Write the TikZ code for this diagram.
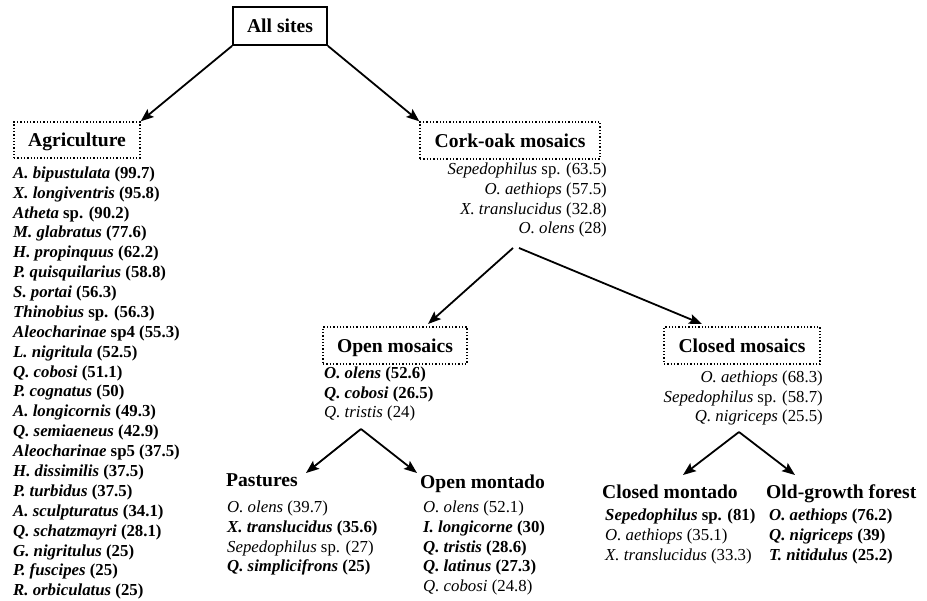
\documentclass[tikz,border=0pt]{standalone}
\usepackage{fontspec}
\setmainfont{Liberation Serif}
\usetikzlibrary{arrows.meta}
\newcommand\spB[2]{\textbf{\textit{#1} #2}}
\newcommand\spR[2]{\textit{#1} #2}
\begin{document}
\begin{tikzpicture}[x=1pt,y=-1pt,
  head/.style={font=\fontsize{19.6}{22}\selectfont\bfseries, inner sep=0pt},
  boxcommon/.style={head, draw, text height=14pt, text depth=0pt},
  solidbox/.style={boxcommon, line width=1.8pt},
  dotbox/.style={boxcommon, dotted, line width=1.3pt},
  item/.style={font=\fontsize{16.8}{19.5}\selectfont, inner sep=0pt},
  arr/.style={-{Stealth[length=13pt,width=10pt,inset=2.5pt]}, line width=1.8pt}]
\useasboundingbox (0,0) rectangle (927,601);
% boxes
\node[solidbox, minimum width=94pt, minimum height=38pt] (all) at (280,26) {All sites};
\node[dotbox, minimum width=126pt, minimum height=36pt] (agri) at (77,140) {Agriculture};
\node[dotbox, minimum width=180pt, minimum height=37pt] (cork) at (510,140.5) {Cork-oak mosaics};
\node[dotbox, minimum width=144pt, minimum height=37pt] (openm) at (395,345.5) {Open mosaics};
\node[dotbox, minimum width=156pt, minimum height=37pt] (closedm) at (742,345.5) {Closed mosaics};
% sub headings
\node[head, anchor=base west] (past) at (226,487) {Pastures};
\node[head, anchor=base west] (openmt) at (420,489) {Open montado};
\node[head, anchor=base west] (closedmt) at (602,499) {Closed montado};
\node[head, anchor=base west] (oldg) at (766,499) {Old-growth forest};
% lists
\foreach \t [count=\i] in {
  {\spB{A. bipustulata}{(99.7)}},
  {\spB{X. longiventris}{(95.8)}},
  {\spB{Atheta}{sp. (90.2)}},
  {\spB{M. glabratus}{(77.6)}},
  {\spB{H. propinquus}{(62.2)}},
  {\spB{P. quisquilarius}{(58.8)}},
  {\spB{S. portai}{(56.3)}},
  {\spB{Thinobius}{sp. (56.3)}},
  {\spB{Aleocharinae}{sp4 (55.3)}},
  {\spB{L. nigritula}{(52.5)}},
  {\spB{Q. cobosi}{(51.1)}},
  {\spB{P. cognatus}{(50)}},
  {\spB{A. longicornis}{(49.3)}},
  {\spB{Q. semiaeneus}{(42.9)}},
  {\spB{Aleocharinae}{sp5 (37.5)}},
  {\spB{H. dissimilis}{(37.5)}},
  {\spB{P. turbidus}{(37.5)}},
  {\spB{A. sculpturatus}{(34.1)}},
  {\spB{Q. schatzmayri}{(28.1)}},
  {\spB{G. nigritulus}{(25)}},
  {\spB{P. fuscipes}{(25)}},
  {\spB{R. orbiculatus}{(25)}}}
  \node[item, anchor=base west] (ag\i) at (13,{178.3+19.88*(\i-1)}) {\t};
\foreach \t [count=\i] in {
  {\spR{Sepedophilus}{sp. (63.5)}},
  {\spR{O. aethiops}{(57.5)}},
  {\spR{X. translucidus}{(32.8)}},
  {\spR{O. olens}{(28)}}}
  \node[item, anchor=base east] (co\i) at (607,{175+19.6*(\i-1)}) {\t};
\foreach \t [count=\i] in {
  {\spB{O. olens}{(52.6)}},
  {\spB{Q. cobosi}{(26.5)}},
  {\spR{Q. tristis}{(24)}}}
  \node[item, anchor=base west] (om\i) at (324,{379+19.5*(\i-1)}) {\t};
\foreach \t [count=\i] in {
  {\spR{O. aethiops}{(68.3)}},
  {\spR{Sepedophilus}{sp. (58.7)}},
  {\spR{Q. nigriceps}{(25.5)}}}
  \node[item, anchor=base east] (cm\i) at (823,{383+19.5*(\i-1)}) {\t};
\foreach \t [count=\i] in {
  {\spR{O. olens}{(39.7)}},
  {\spB{X. translucidus}{(35.6)}},
  {\spR{Sepedophilus}{sp. (27)}},
  {\spB{Q. simplicifrons}{(25)}}}
  \node[item, anchor=base west] (pa\i) at (227,{513+19.5*(\i-1)}) {\t};
\foreach \t [count=\i] in {
  {\spR{O. olens}{(52.1)}},
  {\spB{I. longicorne}{(30)}},
  {\spB{Q. tristis}{(28.6)}},
  {\spB{Q. latinus}{(27.3)}},
  {\spR{Q. cobosi}{(24.8)}}}
  \node[item, anchor=base west] (omt\i) at (423,{513+19.5*(\i-1)}) {\t};
\foreach \t [count=\i] in {
  {\spB{Sepedophilus}{sp. (81)}},
  {\spR{O. aethiops}{(35.1)}},
  {\spR{X. translucidus}{(33.3)}}}
  \node[item, anchor=base west] (cmt\i) at (605,{521+19.5*(\i-1)}) {\t};
\foreach \t [count=\i] in {
  {\spB{O. aethiops}{(76.2)}},
  {\spB{Q. nigriceps}{(39)}},
  {\spB{T. nitidulus}{(25.2)}}}
  \node[item, anchor=base west] (og\i) at (769,{521+19.5*(\i-1)}) {\t};
% connector points
\coordinate (corkL) at (513,248);
\coordinate (corkR) at (519,248);
\coordinate (omIn) at (428,324);
\coordinate (cmIn) at (702,324);
\coordinate (omApex) at (361,429);
\coordinate (paIn) at (306,473);
\coordinate (omtIn) at (417,473);
\coordinate (cmApex) at (739,432);
\coordinate (cmtIn) at (683,475);
\coordinate (ogIn) at (795,475);
% arrows
\draw[arr] (all.south west) -- (agri.north east);
\draw[arr] (all.south east) -- (cork.north west);
\draw[arr] (corkL) -- (omIn);
\draw[arr] (corkR) -- (cmIn);
\draw[arr] (omApex) -- (paIn);
\draw[arr] (omApex) -- (omtIn);
\draw[arr] (cmApex) -- (cmtIn);
\draw[arr] (cmApex) -- (ogIn);
\end{tikzpicture}
\end{document}
